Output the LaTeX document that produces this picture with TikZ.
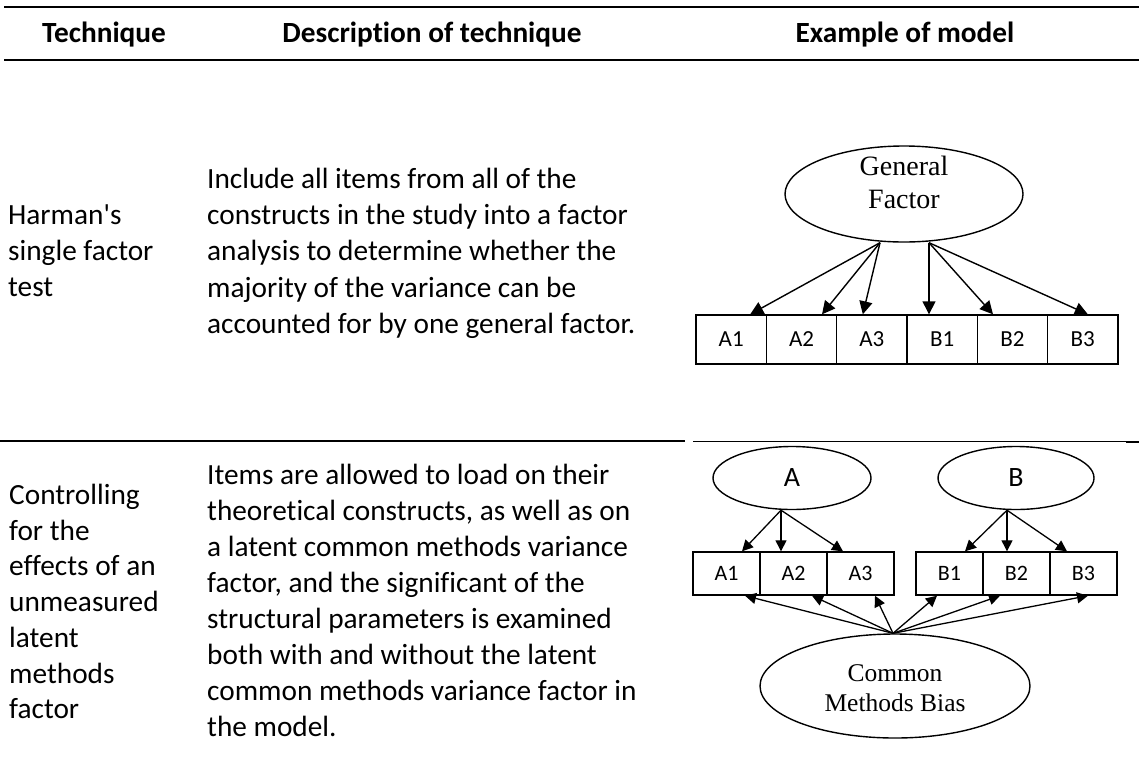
\documentclass[tikz,border=0pt]{standalone}
\usepackage{fontspec}
\setmainfont[Ligatures={NoCommon}]{Carlito}
\newfontfamily\diagserif{Liberation Serif}
\usetikzlibrary{shapes.geometric,arrows.meta,calc}

\begin{document}
\begin{tikzpicture}[x=1pt,y=-1pt,
  rulethick/.style={line width=2pt},
  rulethin/.style={line width=1pt},
  hdr/.style={font=\fontsize{29.3}{35}\selectfont\bfseries, inner sep=0pt, anchor=base},
  body/.style={font=\fontsize{29.3}{36}\selectfont, inner sep=0pt, anchor=base west},
  latent/.style={draw, ellipse, line width=1.4pt, inner sep=0pt},
  itembig/.style={draw, rectangle, line width=1.4pt, inner sep=0pt,
    minimum width=70.33pt, minimum height=49pt, font=\fontsize{23}{23}\selectfont},
  itemsmall/.style={draw, rectangle, line width=1.4pt, inner sep=0pt,
    minimum width=67pt, minimum height=43pt, font=\fontsize{22}{22}\selectfont},
  load/.style={line width=1.4pt, -{Triangle[length=13pt,width=13pt]}},
  loadsmall/.style={line width=1.3pt, -{Triangle[length=11pt,width=11pt]}},
]
\useasboundingbox (0,0) rectangle (1139,758);

% table rules
\draw[rulethick] (4,7) -- (1139,7);
\draw[rulethick] (4,60) -- (1139,60);
\draw[rulethick] (0,441) -- (685,441);
\draw[rulethin] (693,441) -- (1126,441);
\draw[rulethick] (1126,442) -- (1139,442);

% header
\node[hdr] (h1) at (104,42) {Technique};
\node[hdr] (h2) at (432,42) {Description of technique};
\node[hdr] (h3) at (905,42) {Example of model};

% row 1: technique
\foreach \t [count=\i] in {Harman\textquotesingle s, single factor, test}
  \node[body] (ta\i) at (8,{224.5+36.2*(\i-1)}) {\t};
% row 1: description
\foreach \t [count=\i] in {Include all items from all of the,
    constructs in the study into a factor,
    analysis to determine whether the,
    majority of the variance can be,
    accounted for by one general factor.}
  \node[body] (da\i) at (207,{188.5+36.2*(\i-1)}) {\t};

% row 2: technique
\foreach \t [count=\i] in {Controlling, for the, effects of an, unmeasured,
    latent, methods, factor}
  \node[body] (tb\i) at (9,{504.5+35.7*(\i-1)}) {\t};
% row 2: description
\foreach \t [count=\i] in {Items are allowed to load on their,
    {theoretical constructs, as well as on},
    a latent common methods variance,
    {factor, and the significant of the},
    structural parameters is examined,
    both with and without the latent,
    common methods variance factor in,
    the model.}
  \node[body] (db\i) at (207,{484.5+36*(\i-1)}) {\t};

% ---- single factor model ----
\node[latent, minimum width=238pt, minimum height=96pt] (gf) at (904,194) {};
\node[font=\diagserif\fontsize{28}{33}\selectfont, align=center, inner sep=0pt]
  (gft) at (904,182) {General\\Factor};

\node[itembig] (ha1) at (731.2,339.5) {A1};
\node[itembig] (ha2) at (801.5,339.5) {A2};
\node[itembig] (ha3) at (871.8,339.5) {A3};
\node[itembig] (hb1) at (942.2,339.5) {B1};
\node[itembig] (hb2) at (1012.5,339.5) {B2};
\node[itembig] (hb3) at (1082.8,339.5) {B3};

\coordinate (gfl) at ($(gf.south)+(-24,0)$);
\coordinate (gfr) at ($(gf.south)+(25,0)$);
\draw[load] (gfl) -- ($(ha1.north)+(19,0)$);
\draw[load] (gfl) -- ($(ha2.north)+(20.5,0)$);
\draw[load] (gfl) -- ($(ha3.north)+(-9,0)$);
\draw[load] (gfr) -- ($(hb1.north)+(-13.2,0)$);
\draw[load] (gfr) -- ($(hb2.north)+(-19.5,0)$);
\draw[load] (gfr) -- ($(hb3.north)+(5,0)$);

% ---- common method factor model ----
\node[latent, minimum width=158pt, minimum height=63pt,
  font=\fontsize{28}{28}\selectfont] (fa) at (792,478) {A};
\node[latent, minimum width=156pt, minimum height=63pt,
  font=\fontsize{28}{28}\selectfont] (fb) at (1016,478) {B};

\node[itemsmall] (ca1) at (726.5,573.5) {A1};
\node[itemsmall] (ca2) at (793.5,573.5) {A2};
\node[itemsmall] (ca3) at (860.5,573.5) {A3};
\node[itemsmall] (cb1) at (949.5,573.5) {B1};
\node[itemsmall] (cb2) at (1016.5,573.5) {B2};
\node[itemsmall] (cb3) at (1083.5,573.5) {B3};

\node[latent, minimum width=270pt, minimum height=104pt] (cmb) at (895,686) {};
\node[font=\diagserif\fontsize{25.5}{30}\selectfont, align=center, inner sep=0pt]
  (cmbt) at (895,688) {Common\\Methods Bias};

\coordinate (fao) at ($(fa.south)+(-11,0)$);
\coordinate (fbo) at ($(fb.south)+(-9,0)$);
\draw[loadsmall] (fao) -- ($(ca1.north)+(15.5,0)$);
\draw[loadsmall] (fao) -- ($(ca2.north)+(-12.5,0)$);
\draw[loadsmall] (fao) -- ($(ca3.north)+(-17.5,0)$);
\draw[loadsmall] (fbo) -- ($(cb1.north)+(15.5,0)$);
\draw[loadsmall] (fbo) -- ($(cb2.north)+(-9.5,0)$);
\draw[loadsmall] (fbo) -- ($(cb3.north)+(-16.5,0)$);

\coordinate (cmbo) at ($(cmb.north)+(-2,0)$);
\draw[loadsmall] (cmbo) -- ($(ca1.south)+(18.5,0)$);
\draw[loadsmall] (cmbo) -- ($(ca2.south)+(18.5,0)$);
\draw[loadsmall] (cmbo) -- ($(ca3.south)+(14.5,0)$);
\draw[loadsmall] (cmbo) -- ($(cb1.south)+(-12.5,0)$);
\draw[loadsmall] (cmbo) -- ($(cb2.south)+(-16.5,0)$);
\draw[loadsmall] (cmbo) -- ($(cb3.south)+(4.5,0)$);
\end{tikzpicture}
\end{document}
